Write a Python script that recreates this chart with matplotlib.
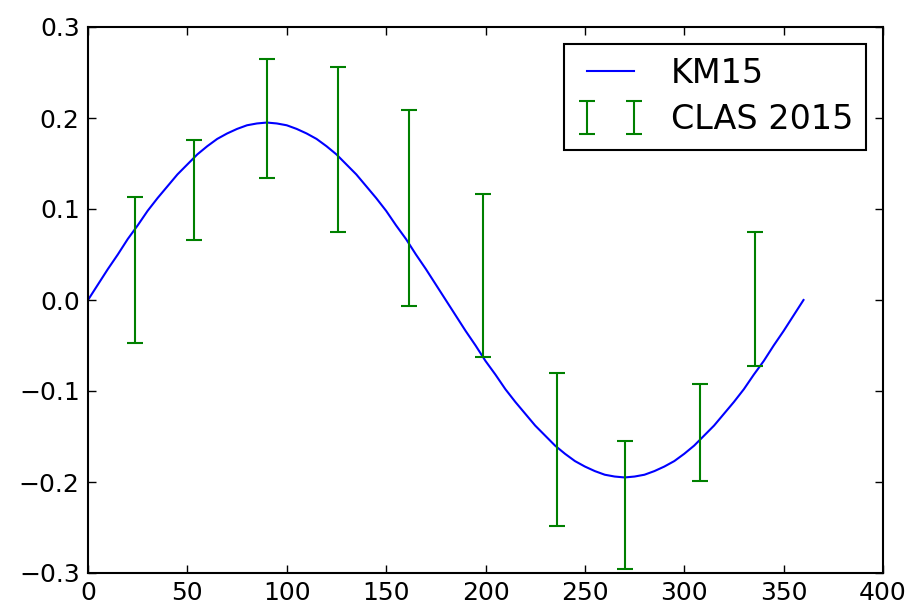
import matplotlib
matplotlib.use('Agg')
import matplotlib.pyplot as plt

# KM15 curve, every 5 degrees
phi = list(range(0, 361, 5))
km15 = [0.000, 0.017, 0.034, 0.050, 0.067, 0.082, 0.098, 0.112, 0.125, 0.138,
        0.149, 0.160, 0.169, 0.177, 0.183, 0.188, 0.192, 0.194, 0.195,
        0.194, 0.192, 0.188, 0.183, 0.177, 0.169, 0.160, 0.149, 0.138,
        0.125, 0.112, 0.098, 0.082, 0.067, 0.050, 0.034, 0.017, 0.000,
        -0.017, -0.034, -0.050, -0.067, -0.082, -0.098, -0.112, -0.125, -0.138,
        -0.149, -0.160, -0.169, -0.177, -0.183, -0.188, -0.192, -0.194, -0.195,
        -0.194, -0.192, -0.188, -0.183, -0.177, -0.169, -0.160, -0.149, -0.138,
        -0.125, -0.112, -0.098, -0.082, -0.067, -0.050, -0.034, -0.017, 0.000]

# CLAS 2015 points
clas_phi = [23.6, 53.3, 90.0, 125.8, 161.5, 198.7, 236.0, 270.2, 307.9, 335.6]
clas_val = [0.033, 0.121, 0.1995, 0.1655, 0.101, 0.027, -0.164, -0.2255, -0.1455, 0.001]
clas_err = [0.080, 0.055, 0.0655, 0.0905, 0.108, 0.090, 0.084, 0.0705, 0.0535, 0.074]

plt.rcParams['font.family'] = ['DejaVu Sans']

fig = plt.figure(figsize=(9.09, 6.04), dpi=100)
ax = fig.add_axes([88 / 909, 1 - 573 / 604, 795 / 909, 546 / 604])

ax.plot(phi, km15, color='#0000ff', lw=1.5, label='KM15')
ax.errorbar(clas_phi, clas_val, yerr=clas_err, fmt='none', ecolor='#008000',
            elinewidth=1.5, capsize=6, capthick=1.5, label='CLAS 2015')

ax.set_xlim(0, 400)
ax.set_ylim(-0.3, 0.3)
ax.set_xticks(range(0, 401, 50))
ax.set_yticks([-0.3, -0.2, -0.1, 0.0, 0.1, 0.2, 0.3])
ax.set_yticklabels(['\u22120.3', '\u22120.2', '\u22120.1', '0.0', '0.1', '0.2', '0.3'])
ax.tick_params(direction='in', top=True, right=True, length=6, width=1, labelsize=18, pad=6)
for s in ax.spines.values():
    s.set_linewidth(1.5)

leg = ax.legend(loc='upper right', numpoints=2, fontsize=24, fancybox=False,
                framealpha=1, edgecolor='black', borderaxespad=0.5,
                handlelength=2.0, handletextpad=0.8, borderpad=0.4, labelspacing=0.4)
leg.get_frame().set_linewidth(1.5)

fig.savefig('out.png', dpi=100, facecolor='white')
